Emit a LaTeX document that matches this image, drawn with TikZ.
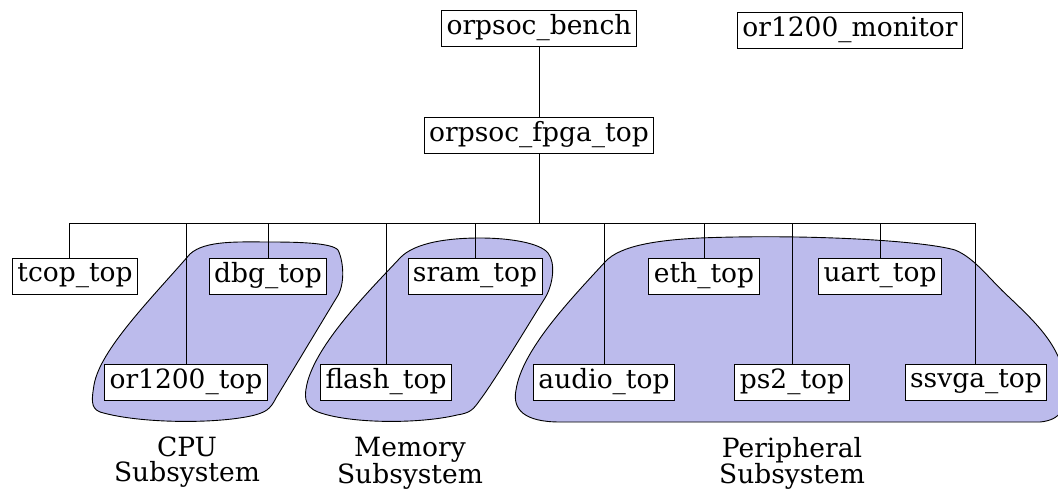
\documentclass[tikz,border=0pt]{standalone}
\usepackage{fontspec}
\setmainfont{DejaVu Serif}
\usetikzlibrary{backgrounds}
\definecolor{groupfill}{RGB}{188,187,236}
\newcommand\modfont{\fontsize{26.5}{25}\selectfont}
\begin{document}
\begin{tikzpicture}[x=1pt,y=-1pt,
  module/.style={draw=black, line width=0.9pt, fill=white, minimum height=36pt,
                 inner xsep=5pt, inner ysep=0pt, font=\modfont},
  link/.style={line width=0.9pt},
  group/.style={fill=groupfill, draw=black, line width=0.9pt},
  caption/.style={align=center, font=\modfont, inner sep=0pt}]
\useasboundingbox (0,0) rectangle (1058,492);
\clip (0,0) rectangle (1058,492);

% top level
\node[module] (bench)   at (539,28)  {orpsoc\_bench};
\node[module] (monitor) at (850,30)  {or1200\_monitor};
\node[module] (fpga)    at (539,135) {orpsoc\_fpga\_top};

% first row of sub-modules
\node[module] (tcop) at (75,276)  {tcop\_top};
\node[module] (dbg)  at (268,276) {dbg\_top};
\node[module] (sram) at (475,276) {sram\_top};
\node[module] (eth)  at (704,276) {eth\_top};
\node[module] (uart) at (880,276) {uart\_top};

% second row of sub-modules
\node[module] (cpu)   at (186,382) {or1200\_top};
\node[module] (flash) at (386,382) {flash\_top};
\node[module] (audio) at (604,382) {audio\_top};
\node[module] (ps2)   at (792,382) {ps2\_top};
\node[module] (vga)   at (976,382) {ssvga\_top};

% subsystem captions
\node[caption, anchor=north] (cpucap) at (187,437) {CPU\\Subsystem};
\node[caption, anchor=north] (memcap) at (410,437) {Memory\\Subsystem};
\node[caption, anchor=north] (percap) at (792,437) {Peripheral\\Subsystem};

% hierarchy connectors
\coordinate (bus) at (539,223);
\draw[link] (bench.south) -- (fpga.north);
\draw[link] (fpga.south) -- (bus);
\draw[link] (bus) -| ([xshift=-6pt]tcop.north);
\draw[link] (bus) -| (cpu.north);
\draw[link] (bus) -| (dbg.north);
\draw[link] (bus) -| (flash.north);
\draw[link] (bus) -| (sram.north);
\draw[link] (bus) -| (audio.north);
\draw[link] (bus) -| (eth.north);
\draw[link] (bus) -| (ps2.north);
\draw[link] (bus) -| (uart.north);
\draw[link] (bus) -| ([xshift=-1pt]vga.north);

% subsystem outlines behind everything
\begin{scope}[on background layer]
\fill[white] (0,0) rectangle (1058,492);
% CPU subsystem
\draw[group] (190,254)
  .. controls (205,240) and (240,242) .. (270,242)
  .. controls (300,242) and (332,243) .. (338,250)
  .. controls (344,262) and (345,285) .. (337,297)
  .. controls (320,325) and (290,375) .. (276,398)
  .. controls (270,410) and (265,412) .. (255,415)
  .. controls (220,424) and (140,424) .. (100,412)
  .. controls (90,408) and (92,398) .. (94,385)
  .. controls (100,350) and (150,300) .. (190,254) -- cycle;
% memory subsystem
\draw[group] (400,258)
  .. controls (415,242) and (450,238) .. (480,238)
  .. controls (510,238) and (540,243) .. (548,253)
  .. controls (556,263) and (553,285) .. (545,298)
  .. controls (525,330) and (495,380) .. (480,400)
  .. controls (473,410) and (470,413) .. (457,415)
  .. controls (420,424) and (350,424) .. (318,412)
  .. controls (303,406) and (304,395) .. (308,380)
  .. controls (320,340) and (370,290) .. (400,258) -- cycle;
% peripheral subsystem
\draw[group] (605,262)
  .. controls (620,245) and (660,240) .. (700,238)
  .. controls (800,234) and (920,240) .. (955,250)
  .. controls (975,258) and (990,280) .. (1010,298)
  .. controls (1035,322) and (1060,345) .. (1065,380)
  .. controls (1068,410) and (1060,420) .. (1040,422)
  -- (560,422)
  .. controls (525,422) and (512,410) .. (516,390)
  .. controls (522,350) and (570,300) .. (605,262) -- cycle;
\end{scope}
\end{tikzpicture}
\end{document}
